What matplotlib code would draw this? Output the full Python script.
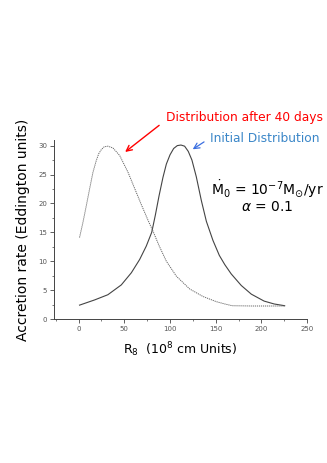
# Accretion rate profiles: initial vs after 40 days

import numpy as np
import matplotlib.pyplot as plt
from matplotlib.ticker import MultipleLocator

#~~~~~~~~~~~~~~~~~~~~~~~~~~~~~~ Data ~~~~~~~~~~~~~~~~~~~~~~~~~~~~~~#
# Initial distribution (solid)
r_initial = [1, 17.5, 32, 46.7, 57.7, 66.8, 74, 80, 84, 88, 92.3, 96, 100, 104, 108, 112, 116,
             120, 124, 128.8, 134.3, 139.8, 147, 154, 160, 167, 178, 189, 203, 214, 225.5]
acc_initial = [2.4, 3.3, 4.2, 5.9, 8.0, 10.3, 12.6, 15.0, 18.0, 21.3, 24.5, 26.8, 28.4, 29.5, 30.0,
               30.1, 29.9, 29.0, 27.5, 24.6, 20.5, 16.9, 13.6, 11.0, 9.4, 7.8, 5.8, 4.3, 3.1, 2.6, 2.3]

# Distribution after 40 days (dotted)
r_after = [1, 4.7, 8.4, 12, 15.7, 19.3, 22, 24.8, 28, 32, 37.5, 44.9, 54, 61.3, 68.6, 75.9, 81.4,
           88, 96, 107, 121.5, 136, 150.7, 160, 168, 190, 210, 225.5]
acc_after = [14.1, 16.7, 19.6, 22.5, 25.4, 27.4, 28.6, 29.3, 29.8, 29.9, 29.6, 28.3, 25.4, 22.6,
             19.8, 17.1, 15.2, 12.7, 10.0, 7.4, 5.2, 3.9, 3.0, 2.6, 2.3, 2.25, 2.25, 2.25]

#~~~~~~~~~~~~~~~~~~~~~~~~~~~~~~~~~~~~~~ Plot ~~~~~~~~~~~~~~~~~~~~~~~~~~~~~~~~~~~~~~~~~~#
fig = plt.figure(figsize=(3.27, 4.63), dpi=100)
ax = fig.add_axes([0.165, 0.311, 0.774, 0.387])

ax.plot(r_initial, acc_initial, color='#444444', lw=0.8)
ax.plot(r_after, acc_after, color='#666666', lw=0.7, linestyle=(0, (1.2, 0.9)))

ax.set_xlim(-27, 250)
ax.set_ylim(0, 31)
ax.xaxis.set_major_locator(MultipleLocator(50))
ax.xaxis.set_minor_locator(MultipleLocator(25))
ax.yaxis.set_major_locator(MultipleLocator(5))
ax.yaxis.set_minor_locator(MultipleLocator(2.5))
ax.tick_params(which='major', length=3, width=0.6, labelsize=5, labelcolor='#555555', color='#444444', pad=2)
ax.tick_params(which='minor', length=1.5, width=0.5, color='#444444')
for side in ['top', 'right']:
    ax.spines[side].set_visible(False)
for side in ['left', 'bottom']:
    ax.spines[side].set_linewidth(0.7)
    ax.spines[side].set_color('#444444')

ax.set_xlabel(r'R$_8$  (10$^8$ cm Units)', fontsize=9, labelpad=6)
ax.set_ylabel('Accretion rate (Eddington units)', fontsize=10, labelpad=6)

# labels + arrows
ax.text(181.7, 34.8, 'Distribution after 40 days', color='red', fontsize=8.8,
        ha='center', va='center', clip_on=False)
ax.annotate('', xy=(48.5, 28.6), xytext=(90.5, 33.8),
            arrowprops=dict(arrowstyle='->', color='red', lw=1.0), annotation_clip=False)

ax.text(143.4, 31.2, 'Initial Distribution', color='#3a86c8', fontsize=8.8,
        ha='left', va='center', clip_on=False)
ax.annotate('', xy=(122.3, 29.1), xytext=(139.8, 30.9),
            arrowprops=dict(arrowstyle='->', color='#3a6ee0', lw=0.9), annotation_clip=False)

ax.text(206.9, 22.5, r'$\dot{\mathrm{M}}_0$ = 10$^{-7}$M$_{\odot}$/yr', fontsize=10,
        ha='center', va='center')
ax.text(206.9, 19.3, r'$\alpha$ = 0.1', fontsize=10, ha='center', va='center')

plt.savefig('out.png', dpi=100)
